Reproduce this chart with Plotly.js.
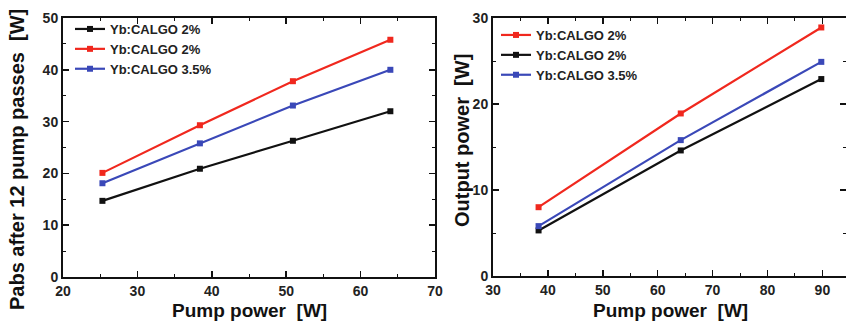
<!DOCTYPE html>
<html><head><meta charset="utf-8">
<script src="https://cdn.plot.ly/plotly-3.0.1.min.js"></script>
<style>html,body{margin:0;padding:0;background:#fff}#c{width:846px;height:321px}</style>
</head><body><div id="c"></div>
<script>
// Left panel: absorbed power vs pump power
const leftPump = [25.3, 38.4, 50.9, 64];
const leftBlack2 = [14.7, 20.9, 26.3, 32];
const leftRed2 = [20.1, 29.3, 37.8, 45.8];
const leftBlue35 = [18.1, 25.8, 33.1, 40];
// Right panel: output power vs pump power
const rightPump = [38.3, 64.2, 89.8];
const rightRed2 = [8.0, 18.9, 28.9];
const rightBlack2 = [5.3, 14.6, 22.9];
const rightBlue35 = [5.8, 15.8, 24.9];
const names = ["Yb:CALGO 2%", "Yb:CALGO 2%", "Yb:CALGO 3.5%"];

const RED = "#f0281e", BLUE = "#3a48b8", BLACK = "#111";
function tr(x, y, name, color, xa, ya, lg) {
  return {x: x, y: y, name: name, type: "scatter", mode: "lines+markers",
    xaxis: xa, yaxis: ya, legend: lg,
    line: {color: color, width: 2.2},
    marker: {symbol: "square", size: 6, color: color}};
}
const data = [
  tr(leftPump, leftBlack2, names[0], BLACK, "x", "y", "legend"),
  tr(leftPump, leftRed2, names[1], RED, "x", "y", "legend"),
  tr(leftPump, leftBlue35, names[2], BLUE, "x", "y", "legend"),
  tr(rightPump, rightRed2, names[0], RED, "x2", "y2", "legend2"),
  tr(rightPump, rightBlack2, names[1], BLACK, "x2", "y2", "legend2"),
  tr(rightPump, rightBlue35, names[2], BLUE, "x2", "y2", "legend2")
];
const FAM = "Liberation Sans, Arial, sans-serif";
const tickFont = {family: FAM, size: 14, color: "#222", weight: "bold"};
const minor = {ticks: "inside", ticklen: 3, tickwidth: 1, tickcolor: "#111", dtick: 5};
function ax(extra) {
  return Object.assign({
    showline: true, linecolor: "#111", linewidth: 2, mirror: "ticks",
    ticks: "inside", ticklen: 6, tickwidth: 1.5, tickcolor: "#111",
    showgrid: false, zeroline: false, tickfont: tickFont, minor: minor
  }, extra);
}
const titleFont = {family: FAM, size: 19, color: "#111", weight: "bold"};
const yTitleFont = {family: FAM, size: 20, color: "#111", weight: "bold"};
const legFont = {family: FAM, size: 13, color: "#222", weight: "bold"};
const layout = {
  width: 846, height: 321,
  margin: {l: 0, r: 0, t: 0, b: 0},
  paper_bgcolor: "#fff", plot_bgcolor: "#fff",
  showlegend: true,
  xaxis: ax({domain: [63/846, 435/846], range: [20, 70], dtick: 10, tick0: 0, anchor: "y"}),
  yaxis: ax({domain: [1-277/321, 1-18/321], range: [0, 50], dtick: 10, anchor: "x"}),
  xaxis2: ax({domain: [493/846, 1], range: [30, 94.3], dtick: 10, tick0: 0, anchor: "y2"}),
  yaxis2: ax({domain: [1-276/321, 1-18/321], range: [0, 30], dtick: 10, anchor: "x2"}),
  legend: {x: 70/846, y: 1-14/321, xanchor: "left", yanchor: "top", bgcolor: "rgba(0,0,0,0)",
    font: legFont, tracegroupgap: 0, itemwidth: 30},
  legend2: {x: 496/846, y: 1-20/321, xanchor: "left", yanchor: "top", bgcolor: "rgba(0,0,0,0)",
    font: legFont, tracegroupgap: 0, itemwidth: 30},
  annotations: [
    {text: "Pump power  [W]", xref: "paper", yref: "paper", x: 250/846, y: 1-310/321,
     showarrow: false, font: titleFont, xanchor: "center", yanchor: "middle"},
    {text: "Pabs after 12 pump passes  [W]", xref: "paper", yref: "paper", x: 17/846, y: 1-160/321,
     showarrow: false, font: yTitleFont, textangle: -90, xanchor: "center", yanchor: "middle"},
    {text: "Pump power  [W]", xref: "paper", yref: "paper", x: 670/846, y: 1-310/321,
     showarrow: false, font: titleFont, xanchor: "center", yanchor: "middle"},
    {text: "Output power  [W]", xref: "paper", yref: "paper", x: 462/846, y: 1-141/321,
     showarrow: false, font: yTitleFont, textangle: -90, xanchor: "center", yanchor: "middle"}
  ]
};
Plotly.newPlot("c", data, layout, {displayModeBar: false, staticPlot: true});
</script></body></html>
